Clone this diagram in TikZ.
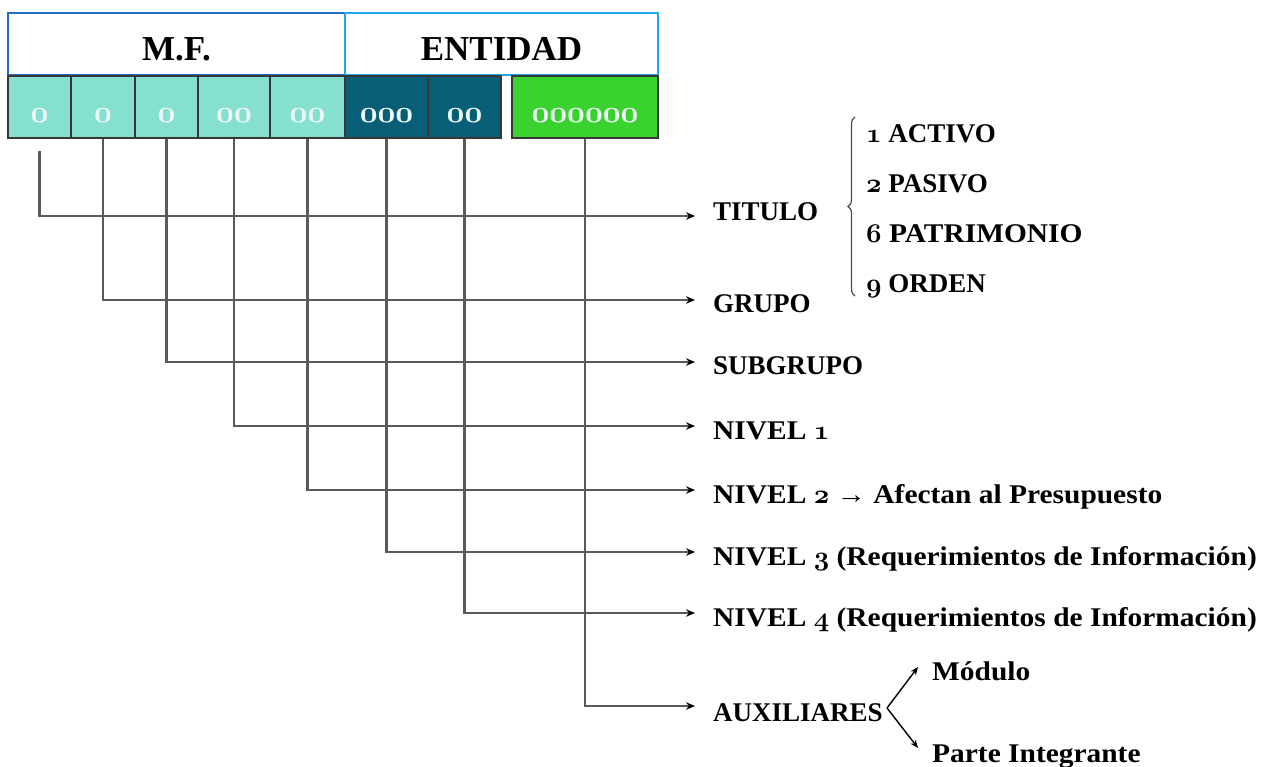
\documentclass[tikz,border=0pt]{standalone}
\usepackage{fontspec}
\usetikzlibrary{arrows.meta,decorations.pathreplacing}
\newfontfamily\lab{Liberation Serif}[FakeStretch=1.09]
\newfontfamily\labc{Liberation Serif}
\newfontfamily\hdr{Liberation Serif}
\font\osnL=cmmib10 at 27pt
\font\osnC=cmmib10 at 31pt
\newcommand\osn[1]{{\osnL #1}}
\newcommand\osc[1]{{\osnC #1}}
\definecolor{mfblue}{RGB}{30,110,200}
\definecolor{entblue}{RGB}{30,170,230}
\definecolor{lteal}{RGB}{134,224,208}
\definecolor{dteal}{RGB}{8,94,118}
\definecolor{cgreen}{RGB}{58,210,46}
\definecolor{cellline}{RGB}{55,55,55}
\definecolor{celltext}{RGB}{236,248,245}
\definecolor{connline}{RGB}{90,90,90}
\begin{document}
\begin{tikzpicture}[x=1pt,y=-1pt,
  hbox/.style={draw, line width=2pt, minimum height=62pt, inner sep=0pt,
    text height=34pt, text depth=0pt, font=\hdr\bfseries\fontsize{35}{40}\selectfont},
  cell/.style={draw=cellline, line width=1.5pt, minimum height=62pt, inner sep=0pt,
    text height=32pt, text depth=0pt, text=celltext},
  lbl/.style={anchor=base west, inner sep=0pt, font=\lab\bfseries\fontsize{27}{30}\selectfont},
  lblc/.style={anchor=base west, inner sep=0pt, font=\labc\bfseries\fontsize{27}{30}\selectfont},
  conn/.style={draw=connline, line width=2.2pt, -{Stealth[color=black,length=9pt,width=7.5pt]}},
  br/.style={draw=black, line width=1.4pt, -{Stealth[length=8pt,width=6.5pt]}},
  bracestyle/.style={draw=black!70, line width=1.2pt, decorate, decoration={brace, amplitude=7pt}}]
\useasboundingbox (0,0) rectangle (1270,767);
\fill[white] (0,0) rectangle (1270,767);

% header
\node[hbox, draw=mfblue, minimum width=337pt] (mf) at (176.5,44) {M.F.};
\node[hbox, draw=entblue, minimum width=313pt] (ent) at (501.5,44) {ENTIDAD};

% cells
\node[cell, fill=lteal, minimum width=63pt] (c1) at (39.5,107) {\osc{0}};
\node[cell, fill=lteal, minimum width=64pt] (c2) at (103,107) {\osc{0}};
\node[cell, fill=lteal, minimum width=63pt] (c3) at (166.5,107) {\osc{0}};
\node[cell, fill=lteal, minimum width=72pt] (c4) at (234,107) {\osc{00}};
\node[cell, fill=lteal, minimum width=75pt] (c5) at (307.5,107) {\osc{00}};
\node[cell, fill=dteal, minimum width=83pt] (c6) at (386.5,107) {\osc{000}};
\node[cell, fill=dteal, minimum width=73pt] (c7) at (464.5,107) {\osc{00}};
\node[cell, fill=cgreen, minimum width=146pt] (c8) at (585,107) {\osc{000000}};

% arrow ends
\coordinate (a1) at (695,216);
\coordinate (a2) at (695,300);
\coordinate (a3) at (695,362);
\coordinate (a4) at (695,426);
\coordinate (a5) at (695,490);
\coordinate (a6) at (695,552);
\coordinate (a7) at (695,613);
\coordinate (a8) at (695,706);

% labels
\node[lblc] (l1) at (713,221) {TITULO};
\node[lblc] (l2) at (713,313) {GRUPO};
\node[lblc] (l3) at (713,375) {SUBGRUPO};
\node[lbl] (l4) at (713,439) {NIVEL \osn{1}};
\node[lbl] (l5) at (713,503) {NIVEL \osn{2} → Afectan al Presupuesto};
\node[lbl] (l6) at (713,565) {NIVEL \osn{3} (Requerimientos de Información)};
\node[lbl] (l7) at (713,626) {NIVEL \osn{4} (Requerimientos de Información)};
\node[lblc] (l8) at (713,721) {AUXILIARES};

% connectors
\draw[conn] ([yshift=-12pt]c1.south) |- (a1);
\draw[conn] (c2.south) |- (a2);
\draw[conn] (c3.south) |- (a3);
\draw[conn] (c4.south) |- (a4);
\draw[conn] (c5.south) |- (a5);
\draw[conn] (c6.south) |- (a6);
\draw[conn] (c7.south) |- (a7);
\draw[conn] (c8.south) |- (a8);

% brace with titles
\coordinate (bb) at (855,296);
\coordinate (bt) at (855,117);
\draw[bracestyle] (bb) -- (bt);
\node[lblc] (i1) at (866,143) {\osn{1} ACTIVO};
\node[lblc] (i2) at (866,193) {\osn{2} PASIVO};
\node[lbl] (i3) at (866,243) {\osn{6} PATRIMONIO};
\node[lblc] (i4) at (866,293) {\osn{9} ORDEN};

% auxiliares branches
\coordinate (av) at (887,708);
\coordinate (mt) at (918,667);
\coordinate (ptip) at (918,748);
\draw[br] (av) -- (mt);
\draw[br] (av) -- (ptip);
\node[lbl] (m1) at (932,680) {Módulo};
\node[lbl] (m2) at (932,762) {Parte Integrante};
\end{tikzpicture}
\end{document}
